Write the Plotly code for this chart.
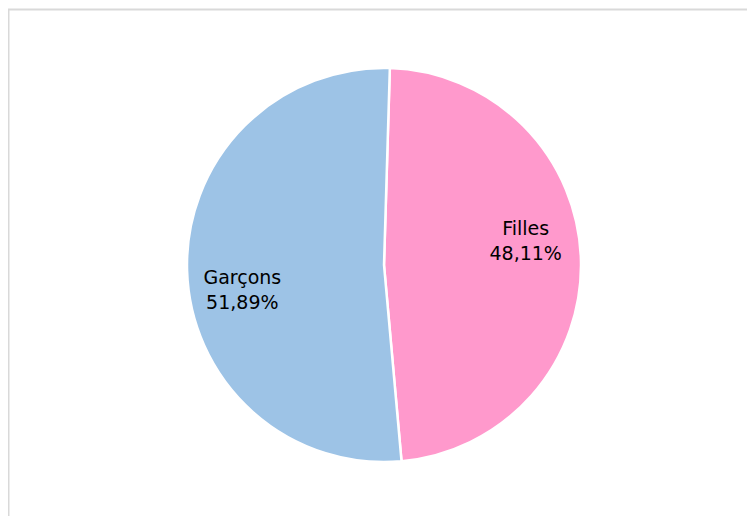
import plotly.graph_objects as go

labels = ["Filles", "Garçons"]
values = [48.11, 51.89]
colors = ["#FF99CC", "#9DC3E6"]

W, H = 755, 516
# page body adds an 8px offset; positions below are in figure pixels
cx, cy, r = 376, 257, 197
dom = dict(x=[(cx - r) / W, (cx + r) / W], y=[1 - (cy + r) / H, 1 - (cy - r) / H])

fig = go.Figure()
fig.add_trace(go.Pie(
    labels=labels, values=values, sort=False,
    direction="clockwise", rotation=1.7,
    marker=dict(colors=colors, line=dict(color="white", width=2.5)),
    textinfo="none", hoverinfo="label+percent",
    showlegend=False, domain=dom,
))
# transparent label ring (slightly rotated so labels sit where the original places them)
fig.add_trace(go.Pie(
    labels=labels, values=values, sort=False,
    direction="clockwise", rotation=-6.5, hole=0.46,
    marker=dict(colors=["rgba(0,0,0,0)"] * 2, line=dict(width=0)),
    texttemplate="%{label}<br>%{percent:.2%}",
    textposition="inside",
    insidetextorientation="horizontal",
    textfont=dict(family="Tahoma, DejaVu Sans, sans-serif", size=19, color="black"),
    hoverinfo="skip",
    showlegend=False, domain=dom,
))

fig.update_layout(
    width=W, height=H,
    margin=dict(l=0, r=0, t=0, b=0),
    paper_bgcolor="white",
    plot_bgcolor="white",
    separators=", ",
    shapes=[dict(type="rect", xref="paper", yref="paper",
                 x0=0.5 / W, x1=1.05, y0=-0.05, y1=1 - 1.5 / H,
                 line=dict(color="#d9d9d9", width=2), fillcolor="rgba(0,0,0,0)")],
)

fig.write_html("out.html")
